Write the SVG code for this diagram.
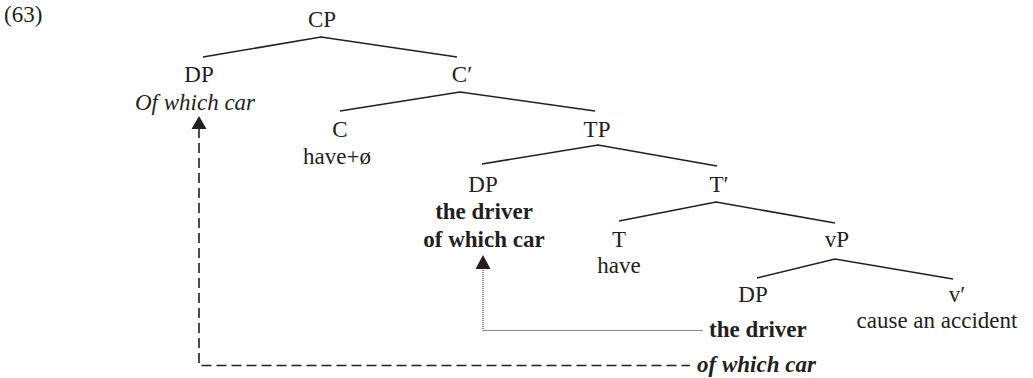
<svg xmlns="http://www.w3.org/2000/svg" width="1033" height="378" viewBox="0 0 1033 378">
<style>
text{font-family:"Liberation Serif","Times New Roman",Tinos,"DejaVu Serif",serif;font-size:23px;fill:#231f20;text-anchor:middle}
.b{font-weight:bold}
.i{font-style:italic}
.s{text-anchor:start}
.br{stroke:#231f20;stroke-width:1.6;fill:none}
.dash{stroke:#231f20;stroke-width:1.6;fill:none;stroke-dasharray:10 5}
.dot{stroke:#231f20;stroke-width:1;fill:none;stroke-dasharray:1 1}
.ah{fill:#231f20}
</style>
<text class="s" x="4" y="22" font-family="Liberation Serif, serif">(63)</text>
<g id="connectors">
<polyline class="br" points="203,57 321,37 457,57"/>
<polyline class="br" points="340,111 460,92 595,111"/>
<polyline class="br" points="482,164 598,145 717,166"/>
<polyline class="br" points="619,221 716,202 835,223"/>
<polyline class="br" points="757,278 835,259 953,279"/>
<polyline class="dot" points="483,268 483,330.5 703,330.5"/>
<polyline class="dash" points="199,128 199,365.5 690,365.5"/>
<polygon class="ah" points="199,116 191.5,129 206.5,129"/>
<polygon class="ah" points="483,255 475.5,269 490.5,269"/>
</g>
<g id="CP"><text x="322" y="27">CP</text></g>
<g id="DP1"><text x="199" y="82">DP</text><text class="i" x="195" y="110">Of which car</text></g>
<g id="Cbar"><text x="462" y="82">C′</text></g>
<g id="C"><text x="340" y="137">C</text><text x="337" y="164">have+ø</text></g>
<g id="TP"><text x="597" y="137">TP</text></g>
<g id="DP2"><text x="483" y="192">DP</text><text class="b" x="484" y="219">the driver</text><text class="b" x="484" y="247">of which car</text></g>
<g id="Tbar"><text x="719" y="192">T′</text></g>
<g id="T"><text x="619" y="247">T</text><text x="619" y="273">have</text></g>
<g id="vP"><text x="837" y="247">vP</text></g>
<g id="DP3"><text x="753" y="302">DP</text></g>
<g id="vbar"><text x="957" y="302">v′</text><text x="937" y="328">cause an accident</text></g>
<g id="trace"><text class="b s" x="709" y="337">the driver</text><text class="b i s" x="697" y="372">of which car</text></g>
</svg>
